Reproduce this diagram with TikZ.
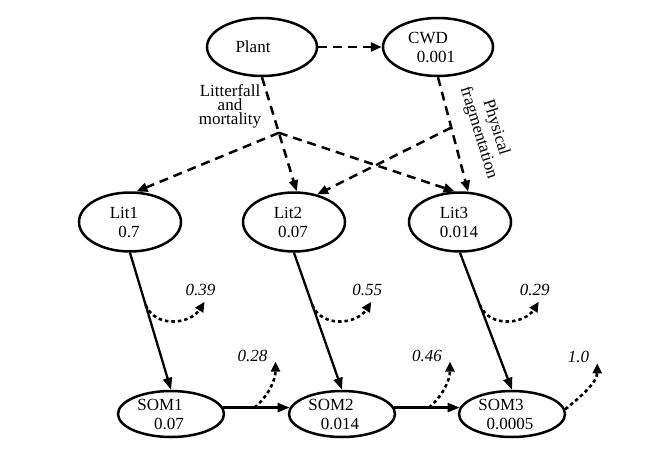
\documentclass[tikz,border=0pt]{standalone}
\usepackage{fontspec}
\setmainfont{Liberation Serif}
\usetikzlibrary{shapes.geometric,arrows.meta,calc}
\newcommand{\shl}[2]{\makebox[0pt]{\hspace*{#1}#2}}
\begin{document}
\begin{tikzpicture}[x=1pt,y=-1pt,
  ell/.style={draw, ellipse, line width=2.5pt, inner sep=0pt, align=center,
    font=\fontsize{17}{19}\selectfont},
  bigell/.style={ell, minimum width=110pt, minimum height=58pt},
  litell/.style={ell, minimum width=102pt, minimum height=59pt},
  somell/.style={ell, minimum width=106pt, minimum height=46pt},
  dashar/.style={line width=2.5pt, dash pattern=on 9pt off 6pt,
    -{Triangle[length=11pt,width=9pt]}},
  solidar/.style={line width=2.3pt, -{Triangle[length=12pt,width=9pt]}},
  dotar/.style={line width=2.6pt, dash pattern=on 3.5pt off 3pt,
    -{Triangle[length=10pt,width=9pt]}},
  rate/.style={font=\fontsize{17}{18}\selectfont\itshape, inner sep=0pt},
  note/.style={font=\fontsize{17}{14}\selectfont, align=center, inner sep=0pt}
]
\useasboundingbox (0,0) rectangle (652,453);
\fill[white] (0,0) rectangle (652,453);

\node[bigell] (Plant) at (262,47) {\shl{-18pt}{Plant}};
\node[bigell] (CWD) at (438,47) {\shl{-20pt}{CWD}\\\shl{-4pt}{0.001}};
\node[litell] (Lit1) at (130,222) {\shl{-12pt}{Lit1}\\\shl{-2pt}{0.7}};
\node[litell] (Lit2) at (294,222) {\shl{-12pt}{Lit2}\\\shl{-2pt}{0.07}};
\node[litell] (Lit3) at (460,222) {\shl{-12pt}{Lit3}\\\shl{-2pt}{0.014}};
\node[somell] (SOM1) at (171,414) {\shl{-22pt}{SOM1}\\\shl{-4pt}{0.07}};
\node[somell] (SOM2) at (342,414) {\shl{-22pt}{SOM2}\\\shl{-4pt}{0.014}};
\node[somell] (SOM3) at (512,414) {\shl{-22pt}{SOM3}\\\shl{-4pt}{0.0005}};

\node[note] (lit) at (230,106) {Litterfall\\and\\mortality};
\node[note, rotate=-73, font=\fontsize{17}{18}\selectfont] (frag) at (487,130) {Physical\\fragmentation};

% dashed flows
\coordinate (j1) at ($(Plant.south)!0.487!(Lit2.85)$);
\coordinate (j2) at ($(CWD.south)!0.44!(Lit3.75)$);
\draw[dashar] (Plant.east) -- (CWD.west);
\draw[dashar] (Plant.south) -- (j1) -- (Lit2.85);
\draw[dashar] (j1) -- (Lit1.78);
\draw[dashar] (j1) -- (Lit3.100);
\draw[dashar] (CWD.south) -- (j2) -- (Lit3.75);
\draw[dashar] (j2) -- (Lit2.50);

% litter to SOM
\draw[solidar] (Lit1.south) -- (SOM1.north);
\draw[solidar] (Lit2.south) -- (SOM2.north);
\draw[solidar] (Lit3.south) -- (SOM3.north);
\draw[solidar] (SOM1.7) -- (SOM2.173);
\draw[solidar] (SOM2.7) -- (SOM3.173);

% respiration from litter
\foreach \i/\v in {1/0.39, 2/0.55, 3/0.29}{
  \coordinate (s\i) at ($(Lit\i.south)!0.38!(SOM\i.north)$);
  \coordinate (t\i) at ($(s\i)+(59,-3)$);
  \draw[dotar] (s\i) .. controls ($(s\i)+(10,24)$) and ($(t\i)+(-14,22)$) .. (t\i);
  \node[rate] (r\i) at ($(t\i)+(-4,-12)$) {\v};
}

% respiration from SOM
\coordinate (b1) at ($(SOM1.7)!0.47!(SOM2.173)$);
\coordinate (b2) at ($(SOM2.7)!0.53!(SOM3.173)$);
\coordinate (b3) at (SOM3.5);
\coordinate (u1) at ($(b1)+(21,-46)$);
\coordinate (u2) at ($(b2)+(21,-46)$);
\coordinate (u3) at ($(b3)+(32,-46)$);
\foreach \i/\v in {1/0.28, 2/0.46, 3/1.0}{
  \draw[dotar] (b\i) .. controls ($(b\i)+(12,-10)$) and ($(u\i)+(0,20)$) .. (u\i);
  \node[rate, anchor=east] (q\i) at ($(u\i)+(-8,-6)$) {\v};
}
\end{tikzpicture}
\end{document}
